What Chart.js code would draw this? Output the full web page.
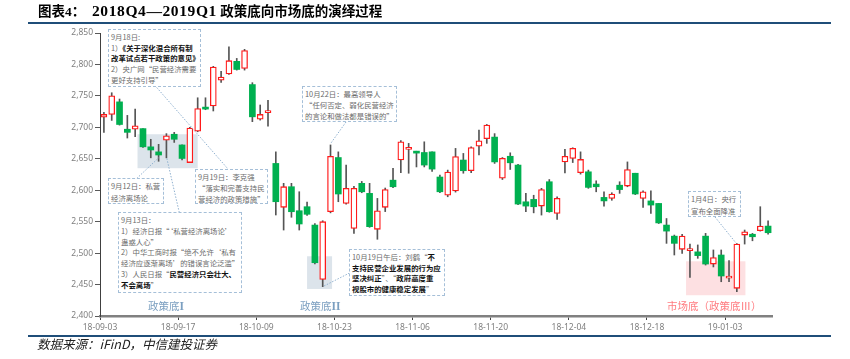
<!DOCTYPE html>
<html>
<head>
<meta charset="utf-8">
<script src="https://cdn.jsdelivr.net/npm/chart.js@4.4.1/dist/chart.umd.min.js"></script>
<style>
  html, body { margin: 0; padding: 0; background: #fff; }
  #wrap { position: relative; width: 850px; height: 359px; overflow: hidden; }
  #c { position: absolute; left: 0; top: 0; }
  .rule { position: absolute; left: 28px; width: 803px; background: #1f4e79; }
  .title { position: absolute; left: 38px; top: 2px; line-height: 18px; white-space: nowrap;
           font-family: "Liberation Serif", "Noto Sans CJK SC", serif; font-weight: bold; color: #000; font-size: 13.5px; }
  .title .lat { font-size: 15.5px; letter-spacing: 0.6px; }
  .src { position: absolute; left: 37px; top: 336px; font: italic 12.5px/15px "Noto Sans CJK SC", sans-serif; color: #222; }
  .note { position: absolute; box-sizing: border-box; border: 1px dashed #a5bfd8; background: #fff;
          font-family: "Noto Sans CJK SC", sans-serif; font-size: 7.4px; line-height: 10.7px; color: #6b6b6b;
          padding: 1px 2px 0 2px; white-space: nowrap; }
  .note b { color: #111; font-weight: bold; }
  .tag { position: absolute; font-family: "Noto Sans CJK SC", sans-serif; font-size: 10.5px; line-height: 12px; white-space: nowrap; }
  .tag .rn { font-family: "Liberation Serif", serif; font-weight: bold; font-size: 11.5px; }
  svg { position: absolute; left: 0; top: 0; }
</style>
</head>
<body>
<div id="wrap">
  <canvas id="c" width="850" height="359"></canvas>

  <div class="title">图表4：&nbsp;&nbsp;<span class="lat">2018Q4—2019Q1</span> 政策底向市场底的演绎过程</div>
  <div class="rule" style="top:22px;height:2px;"></div>
  <div class="rule" style="top:335px;height:1.5px;"></div>
  <div class="src">数据来源：iFinD，中信建投证券</div>

  <svg width="850" height="359" id="links"></svg>

  <div class="note" style="left:108px;top:29px;width:93px;height:58px;padding-top:2px;">9月18日:<br>1）<b>《关于深化混合所有制</b><br><b>改革试点若干政策的意见》</b><br>2）央广网“民营经济需要<br>更好支持引导”</div>
  <div class="note" style="left:302px;top:86px;width:95px;height:36px;line-height:11px;">10月22日：最高领导人<br>“任何否定、弱化民营经济<br>的言论和做法都是错误的”</div>
  <div class="note" style="left:108px;top:178px;width:56px;height:26px;line-height:11.5px;">9月12日：私营<br>经济离场论</div>
  <div class="note" style="left:195px;top:169px;width:73px;height:35px;line-height:11px;">9月19日：李克强<br>“落实和完善支持民<br>营经济的政策措施”</div>
  <div class="note" style="left:118px;top:212px;width:124px;height:81px;line-height:10.8px;padding-top:2px;">9月13日：<br>1）经济日报“‘私营经济离场论’<br>蛊惑人心”<br>2）中华工商时报“绝不允许‘私有<br>经济应逐渐离场’的错误言论泛滥”<br>3）人民日报“<b>民营经济只会壮大、</b><br><b>不会离场</b>”</div>
  <div class="note" style="left:349px;top:249px;width:96px;height:47px;line-height:10.6px;padding-top:2px;">10月19日午后：刘鹤“<b>不</b><br><b>支持民营企业发展的行为应</b><br><b>坚决纠正</b>”、“<b>政府高度重</b><br><b>视股市的健康稳定发展</b>”</div>
  <div class="note" style="left:688px;top:191px;width:53px;height:26px;line-height:11.5px;">1月4日：央行<br>宣布全面降准</div>

  <div class="tag" style="left:148px;top:300px;color:#7b9fc0;">政策底<span class="rn">I</span></div>
  <div class="tag" style="left:300px;top:300px;color:#7b9fc0;">政策底<span class="rn">II</span></div>
  <div class="tag" style="left:667px;top:300px;color:#ff7c80;">市场底（政策底Ⅲ）</div>
</div>

<script>
// trading days (上证综指 daily K)
const dates = [
  '18-09-03','18-09-04','18-09-05','18-09-06','18-09-07','18-09-10','18-09-11','18-09-12','18-09-13','18-09-14',
  '18-09-17','18-09-18','18-09-19','18-09-20','18-09-21','18-09-25','18-09-26','18-09-27','18-09-28',
  '18-10-08','18-10-09','18-10-10','18-10-11','18-10-12','18-10-15','18-10-16','18-10-17','18-10-18','18-10-19',
  '18-10-22','18-10-23','18-10-24','18-10-25','18-10-26','18-10-29','18-10-30','18-10-31',
  '18-11-01','18-11-02','18-11-05','18-11-06','18-11-07','18-11-08','18-11-09','18-11-12','18-11-13','18-11-14',
  '18-11-15','18-11-16','18-11-19','18-11-20','18-11-21','18-11-22','18-11-23','18-11-26','18-11-27','18-11-28',
  '18-11-29','18-11-30',
  '18-12-03','18-12-04','18-12-05','18-12-06','18-12-07','18-12-10','18-12-11','18-12-12','18-12-13','18-12-14',
  '18-12-17','18-12-18','18-12-19','18-12-20','18-12-21','18-12-24','18-12-25','18-12-26','18-12-27','18-12-28',
  '19-01-02','19-01-03','19-01-04','19-01-07','19-01-08','19-01-09','19-01-10'
];

const open = [
  2716, 2720.5, 2740.5, 2697, 2697, 2698, 2669, 2661, 2679.5, 2689,
  2672, 2644, 2694, 2732, 2734, 2775, 2785, 2805, 2793.6,
  2768, 2713, 2723.5, 2642.6, 2572.8, 2605.6, 2567.4, 2573.8, 2544.6, 2458,
  2565.8, 2652, 2579, 2539.3, 2611, 2595, 2537.8, 2572.8,
  2616, 2648, 2665, 2662, 2660, 2661, 2621, 2592, 2599, 2648,
  2631, 2670, 2682, 2684.5, 2619, 2654, 2640, 2581.6, 2585.4, 2574.8,
  2613.5, 2563,
  2645, 2650.6, 2628, 2629.3, 2609.8, 2588.6, 2587, 2608, 2606.6, 2627,
  2587, 2583, 2579, 2544.6, 2527, 2506, 2504, 2502, 2527, 2482.6,
  2497, 2460, 2444, 2528.7, 2530, 2535.5, 2543
];
const high = [
  2724, 2755, 2745, 2719, 2729, 2698, 2681, 2673, 2690, 2692,
  2672, 2700, 2747, 2747, 2797, 2789, 2828, 2809.6, 2824,
  2771, 2735.5, 2743, 2661, 2611, 2611, 2597.6, 2581, 2547, 2551.5,
  2672, 2661, 2640, 2606, 2614, 2611, 2587, 2603.5,
  2634.7, 2679, 2674.5, 2662, 2677, 2661, 2624, 2632, 2666.5, 2658.5,
  2669, 2695.6, 2704.6, 2690, 2652, 2659.5, 2641, 2595, 2592, 2603,
  2617, 2589.6,
  2665, 2667.5, 2661, 2632, 2615, 2597.5, 2596, 2613.5, 2645, 2627,
  2599, 2599, 2579, 2555, 2528.7, 2530, 2514.4, 2513, 2531.4, 2505,
  2505, 2488, 2515, 2536.7, 2531.4, 2573.8, 2551.5
];
const low = [
  2692, 2711, 2703.5, 2683, 2685, 2668, 2651.5, 2646, 2651.5, 2676,
  2648, 2644, 2693, 2728, 2726, 2771.5, 2784, 2791, 2791,
  2709, 2711.5, 2702, 2560.6, 2536.7, 2557, 2536.7, 2560, 2483, 2446.6,
  2564, 2581.7, 2578, 2531.4, 2596, 2541, 2522, 2566,
  2604, 2628, 2627, 2637, 2637, 2630, 2596, 2589.6, 2597, 2627,
  2628, 2656, 2674.5, 2642.6, 2617, 2633, 2577, 2565.7, 2564, 2560.5,
  2565, 2553.6,
  2627.7, 2644, 2625.6, 2603, 2597.5, 2574.8, 2584, 2595, 2605.5, 2593,
  2572.8, 2563, 2547, 2515.5, 2497, 2499.6, 2461.5, 2491.7, 2481, 2478,
  2454.5, 2454.5, 2438.6, 2514.4, 2519.6, 2535, 2530
];
const close = [
  2720.5, 2750, 2704.5, 2692, 2702.5, 2669, 2664, 2656, 2686.5, 2681,
  2650.5, 2699, 2730, 2729, 2796, 2780, 2806, 2792, 2822,
  2716.7, 2720.5, 2725, 2581.7, 2605.6, 2565.8, 2546.3, 2561.7, 2484.7, 2550,
  2654, 2594, 2603, 2603, 2597.5, 2542, 2567.4, 2601,
  2605.5, 2677, 2666.5, 2659, 2640, 2633.6, 2597.5, 2629, 2653.5, 2631,
  2668, 2678.5, 2703.5, 2645, 2650.6, 2643.6, 2578, 2574.8, 2573.7, 2601,
  2565.8, 2587,
  2654, 2666.5, 2649, 2604.5, 2605.5, 2583, 2594, 2601, 2633, 2594,
  2597.5, 2576.4, 2548, 2535, 2515.5, 2527, 2505, 2496, 2482.6, 2493,
  2463.6, 2463.6, 2514.4, 2534, 2526, 2543, 2532.4
];

const yTicks = [2400, 2450, 2500, 2550, 2600, 2650, 2700, 2750, 2800, 2850];
const xTickIdx = [0, 10, 20, 30, 40, 50, 60, 70, 80];

const RED = '#ff1a1a';
const GREEN = '#00b050';
const isUp = i => close[i] >= open[i];

// shaded bottoms, in data units (x = trading-day index, y = index level)
const zones = [
  { x0: 4.8, x1: 12.5, y0: 2635, y1: 2689, color: '#dce4eb' },
  { x0: 26.5, x1: 29.7, y0: 2443, y1: 2495, color: '#dce4eb' },
  { x0: 75.0, x1: 82.6, y0: 2433, y1: 2487, color: '#fde0e2' }
];

const zonePlugin = {
  id: 'zones',
  beforeDatasetsDraw(chart) {
    const { ctx, scales: { x, y } } = chart;
    ctx.save();
    zones.forEach(z => {
      const l = x.getPixelForValue(z.x0), r = x.getPixelForValue(z.x1);
      const t = y.getPixelForValue(z.y1), b = y.getPixelForValue(z.y0);
      ctx.fillStyle = z.color;
      ctx.fillRect(l, t, r - l, b - t);
    });
    ctx.restore();
  }
};

new Chart(document.getElementById('c'), {
  type: 'bar',
  data: {
    datasets: [
      {
        label: 'body',
        data: dates.map((d, i) => ({ x: i + 0.5, y: [open[i], close[i]] })),
        barThickness: 6,
        minBarLength: 2,
        grouped: false,
        order: 0,
        borderSkipped: false,
        backgroundColor: c => isUp(c.dataIndex) ? '#ffffff' : GREEN,
        borderColor: c => isUp(c.dataIndex) ? RED : GREEN,
        borderWidth: c => isUp(c.dataIndex) ? 1.3 : 0
      },
      {
        label: 'wick',
        data: dates.map((d, i) => ({ x: i + 0.5, y: [low[i], high[i]] })),
        barThickness: 1,
        grouped: false,
        order: 1,
        backgroundColor: '#555555'
      }
    ]
  },
  options: {
    responsive: false,
    animation: false,
    layout: { padding: { left: 0, right: 78, top: 33, bottom: 23 } },
    plugins: { legend: { display: false }, tooltip: { enabled: false } },
    scales: {
      x: {
        type: 'linear',
        min: 0,
        max: dates.length,
        offset: false,
        afterBuildTicks: s => { s.ticks = xTickIdx.map(v => ({ value: v })); },
        afterFit: s => { s.height = 20; },
        grid: { offset: false, drawOnChartArea: false, tickLength: 4, color: '#404040' },
        border: { color: '#808080', width: 2.5 },
        ticks: {
          autoSkip: false,
          maxRotation: 0,
          padding: 2,
          color: '#7f7f7f',
          font: { family: 'Noto Sans', size: 8.5 },
          callback: v => dates[v]
        }
      },
      y: {
        min: yTicks[0],
        max: yTicks[yTicks.length - 1],
        afterBuildTicks: s => { s.ticks = yTicks.map(v => ({ value: v })); },
        afterFit: s => { s.width = 100; },
        grid: { drawOnChartArea: false, tickLength: 5, color: '#595959' },
        border: { color: '#404040', width: 1 },
        ticks: {
          padding: 2,
          color: '#7f7f7f',
          font: { family: 'Noto Sans', size: 8.5 },
          callback: v => v.toLocaleString('en-US')
        }
      }
    }
  },
  plugins: [zonePlugin]
});

// dotted leader lines from notes to candles
const links = [
  [156.7, 87.5, 228, 169],
  [136.7, 178.5, 159.5, 157],
  [179.3, 212.5, 166.5, 157],
  [346, 122, 331, 143],
  [349.5, 273, 324, 286],
  [715, 217, 736, 243]
];
const svg = document.getElementById('links');
links.forEach(([x1, y1, x2, y2]) => {
  const ln = document.createElementNS('http://www.w3.org/2000/svg', 'line');
  ln.setAttribute('x1', x1); ln.setAttribute('y1', y1);
  ln.setAttribute('x2', x2); ln.setAttribute('y2', y2);
  ln.setAttribute('stroke', '#8fb0cf');
  ln.setAttribute('stroke-width', '1');
  ln.setAttribute('stroke-dasharray', '1.5 1.5');
  svg.appendChild(ln);
});
</script>
</body>
</html>
